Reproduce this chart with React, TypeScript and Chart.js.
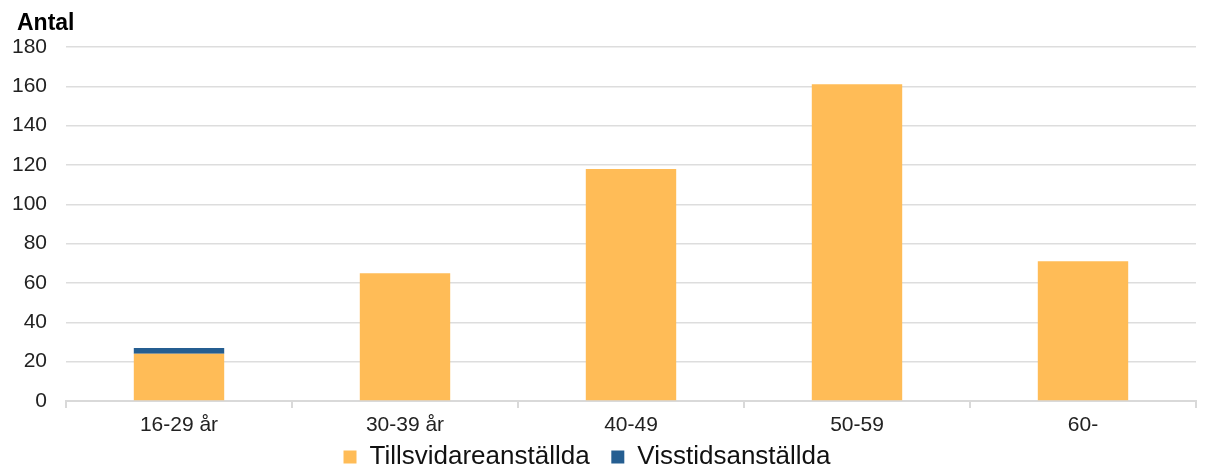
import React, { useEffect, useRef } from "react";
import { Chart, registerables } from "chart.js";

Chart.register(...registerables);

const categories = ["16-29 år", "30-39 år", "40-49", "50-59", "60-"];
const tillsvidare = [24, 65, 118, 161, 71];
const visstid = [3, 0, 0, 0, 0];
const yTicks = { min: 0, max: 180, step: 20 };
const seriesNames = ["Tillsvidareanställda", "Visstidsanställda"];
const axisTitle = "Antal";

const FONT = "Liberation Sans, Arial, sans-serif";

const axisTitlePlugin = {
  id: "axisTitle",
  afterDraw(chart: any) {
    const { ctx, chartArea } = chart;
    ctx.save();
    ctx.font = `bold 23px ${FONT}`;
    ctx.fillStyle = "#000";
    ctx.textAlign = "left";
    ctx.textBaseline = "middle";
    ctx.fillText(axisTitle, chartArea.left - 49, 24);
    ctx.restore();
  },
};

export default function App() {
  const ref = useRef<HTMLCanvasElement | null>(null);
  useEffect(() => {
    if (!ref.current) return;
    const defaultGen = Chart.defaults.plugins.legend.labels.generateLabels;
    const chart = new Chart(ref.current, {
      type: "bar",
      data: {
        labels: categories,
        datasets: [
          { label: seriesNames[0], data: tillsvidare, backgroundColor: "#FFBC57", barPercentage: 0.4, categoryPercentage: 1 },
          { label: seriesNames[1], data: visstid, backgroundColor: "#255E91", barPercentage: 0.4, categoryPercentage: 1 },
        ],
      },
      plugins: [axisTitlePlugin],
      options: {
        animation: false,
        responsive: false,
        maintainAspectRatio: false,
        layout: { padding: { left: -22, right: 15, top: 47, bottom: -10 } },
        plugins: {
          tooltip: { enabled: false },
          title: { display: false },
          legend: {
            position: "bottom",
            labels: {
              boxWidth: 13,
              boxHeight: 13,
              color: "#111",
              font: { family: FONT, size: 26 },
              padding: 0,
              generateLabels: (c: any) => {
                const items = defaultGen(c);
                return items.map((it: any, i: number) =>
                  i < items.length - 1 ? { ...it, text: it.text + "   " } : it
                );
              },
            },
          },
        },
        scales: {
          x: {
            stacked: true,
            grid: { drawOnChartArea: false, drawTicks: true, tickLength: 7, color: "#D9D9D9", lineWidth: 2 },
            border: { display: true, color: "#D9D9D9", width: 2 },
            ticks: { color: "#222", font: { family: FONT, size: 21 }, padding: 5, maxRotation: 0 },
            afterFit: (s: any) => { s.height = 43; },
          },
          y: {
            stacked: true,
            min: yTicks.min,
            max: yTicks.max,
            grid: { color: "#DDDDDD", lineWidth: 1.5, drawTicks: false },
            border: { display: false },
            ticks: { stepSize: yTicks.step, color: "#222", font: { family: FONT, size: 21 }, padding: 19 },
            afterFit: (s: any) => { s.width = 88; },
          },
        },
      },
    });
    return () => chart.destroy();
  }, []);
  return (
    <div style={{ position: "absolute", left: 0, top: 0, width: 1211, height: 470, background: "#fff" }}>
      <canvas ref={ref} width={1211} height={470} />
    </div>
  );
}
